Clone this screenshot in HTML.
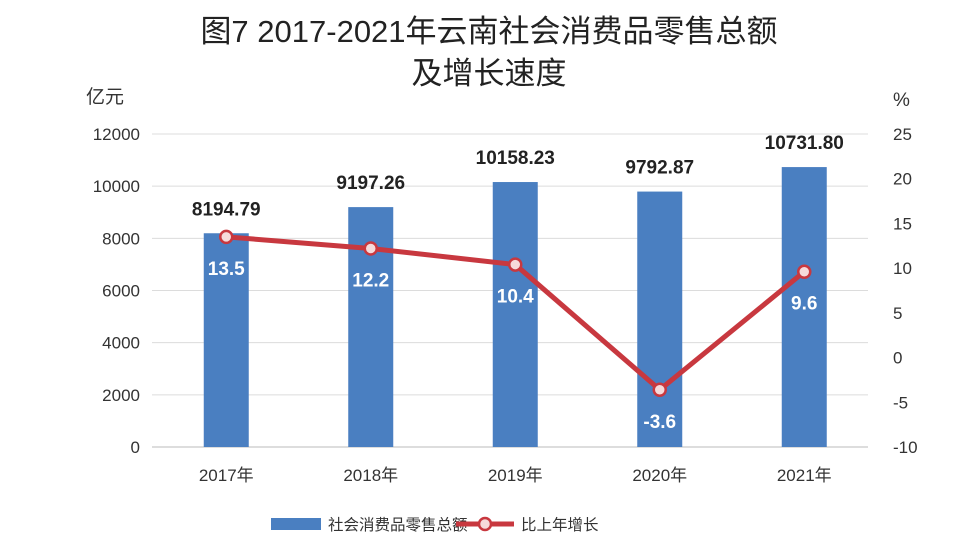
<!DOCTYPE html>
<html><head><meta charset="utf-8">
<style>
body{margin:0;background:#fff;}
svg text{font-family:"Liberation Sans","Noto Sans CJK SC",sans-serif;}
</style></head>
<body>
<svg width="978" height="554" viewBox="0 0 978 554" xmlns="http://www.w3.org/2000/svg">
<g id="root"></g>
</svg>
<script>
const categories=["2017年","2018年","2019年","2020年","2021年"];
const salesValues=[8194.79,9197.26,10158.23,9792.87,10731.80];
const salesLabels=["8194.79","9197.26","10158.23","9792.87","10731.80"];
const growthValues=[13.5,12.2,10.4,-3.6,9.6];
const growthLabels=["13.5","12.2","10.4","-3.6","9.6"];
const leftTicks=[0,2000,4000,6000,8000,10000,12000];
const rightTicks=[-10,-5,0,5,10,15,20,25];

const NS="http://www.w3.org/2000/svg";
const root=document.getElementById('root');
function el(tag,attrs,text){const e=document.createElementNS(NS,tag);for(const k in attrs)e.setAttribute(k,attrs[k]);if(text!==undefined)e.textContent=text;root.appendChild(e);return e;}
const plotL=152,plotR=868,plotTop=134,plotBot=447;
const bandL=154,bandStep=144.5;
const yL=v=>plotBot-(v/12000)*(plotBot-plotTop);
const yR=v=>plotBot-((v+10)/35)*(plotBot-plotTop);
const xC=i=>bandL+bandStep*(i+0.5);

let t=el('text',{x:489,y:42,'text-anchor':'middle','font-size':31,fill:'#222'},'图7 2017-2021年云南社会消费品零售总额');

t=el('text',{x:489,y:84,'text-anchor':'middle','font-size':31,fill:'#222'},'及增长速度');

t=el('text',{x:86,y:103,'font-size':19,fill:'#333'},'亿元');

t=el('text',{x:893,y:106,'font-size':19,fill:'#333'},'%');


leftTicks.forEach(v=>{
 const g=el('line',{x1:plotL,x2:plotR,y1:yL(v),y2:yL(v),stroke:v===0?'#bbb':'#dcdcdc','stroke-width':1});
 
 const tx=el('text',{x:140,y:yL(v)+6,'text-anchor':'end','font-size':17,fill:'#333'},String(v));
 
});
rightTicks.forEach(v=>{
 const tx=el('text',{x:893,y:yR(v)+6,'font-size':17,fill:'#333'},String(v));
 
});
categories.forEach((c,i)=>{
 const tx=el('text',{x:xC(i),y:481,'text-anchor':'middle','font-size':17,fill:'#333'},c);
 
});
const bw=45;
salesValues.forEach((v,i)=>{
 const r=el('rect',{x:xC(i)-bw/2,y:yL(v),width:bw,height:plotBot-yL(v),fill:'#4a7fc1'});
 
 const tx=el('text',{x:xC(i),y:yL(v)-18,'text-anchor':'middle','font-size':19,'font-weight':'bold',fill:'#222'},salesLabels[i]);
 
});
const pts=growthValues.map((v,i)=>xC(i)+','+yR(v)).join(' ');
const pl=el('polyline',{points:pts,fill:'none',stroke:'#c8383f','stroke-width':5,'stroke-linejoin':'round'});

growthValues.forEach((v,i)=>{
 const c=el('circle',{cx:xC(i),cy:yR(v),r:6,fill:'#f6dada',stroke:'#c8383f','stroke-width':2.5});
 
 const tx=el('text',{x:xC(i),y:yR(v)+38,'text-anchor':'middle','font-size':19,'font-weight':'bold',fill:'#fff'},growthLabels[i]);
 
});
let r=el('rect',{x:271,y:518,width:50,height:12,fill:'#4a7fc1'});

t=el('text',{x:328,y:530,'font-size':15.5,fill:'#333'},'社会消费品零售总额');

let l=el('line',{x1:456,x2:514,y1:524,y2:524,stroke:'#c8383f','stroke-width':5});

let c=el('circle',{cx:485,cy:524,r:6,fill:'#f6dada',stroke:'#c8383f','stroke-width':2.5});

t=el('text',{x:521,y:530,'font-size':15.5,fill:'#333'},'比上年增长');

</script>
</body></html>
